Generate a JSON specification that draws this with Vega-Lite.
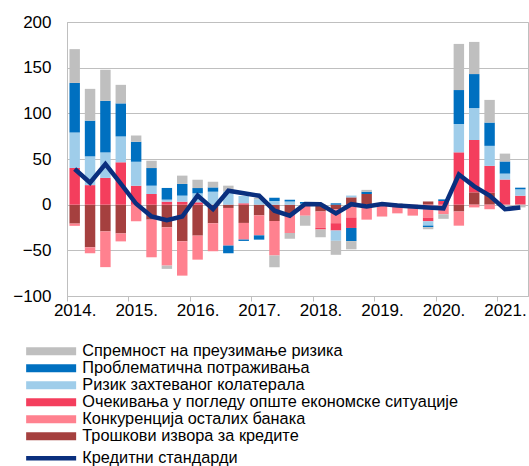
{
  "$schema": "https://vega.github.io/schema/vega-lite/v6.json",
  "width": 461,
  "height": 274,
  "autosize": {"type": "none"},
  "padding": {"left": 67, "top": 22, "right": 1, "bottom": 170},
  "background": "white",
  "config": {
    "font": "Liberation Sans",
    "view": {"stroke": "#BFBFBF", "strokeWidth": 1},
    "axis": {"labelFont": "Liberation Sans", "labelFontSize": 17, "labelColor": "#000000"},
    "legend": {"labelFont": "Liberation Sans", "labelColor": "#000000", "labelLimit": 600}
  },
  "datasets": {
    "ord": [
      {"s": "Трошкови извора за кредите", "k": 1},
      {"s": "Конкуренција осталих банака", "k": 2},
      {"s": "Очекивања у погледу опште економске ситуације", "k": 3},
      {"s": "Ризик захтеваног колатерала", "k": 4},
      {"s": "Проблематична потраживања", "k": 5},
      {"s": "Спремност на преузимање ризика", "k": 6}
    ],
    "bars": [
      {"q": "2014-1", "s": "Трошкови извора за кредите", "v": -20.7},
      {"q": "2014-1", "s": "Конкуренција осталих банака", "v": -2.5},
      {"q": "2014-1", "s": "Очекивања у погледу опште економске ситуације", "v": 40.2},
      {"q": "2014-1", "s": "Ризик захтеваног колатерала", "v": 38.8},
      {"q": "2014-1", "s": "Проблематична потраживања", "v": 54.3},
      {"q": "2014-1", "s": "Спремност на преузимање ризика", "v": 37},
      {"q": "2014-2", "s": "Трошкови извора за кредите", "v": -46.7},
      {"q": "2014-2", "s": "Конкуренција осталих банака", "v": -6.5},
      {"q": "2014-2", "s": "Очекивања у погледу опште економске ситуације", "v": 21.4},
      {"q": "2014-2", "s": "Ризик захтеваног колатерала", "v": 31.5},
      {"q": "2014-2", "s": "Проблематична потраживања", "v": 39.1},
      {"q": "2014-2", "s": "Спремност на преузимање ризика", "v": 34.8},
      {"q": "2014-3", "s": "Трошкови извора за кредите", "v": -29.3},
      {"q": "2014-3", "s": "Конкуренција осталих банака", "v": -39.1},
      {"q": "2014-3", "s": "Очекивања у погледу опште економске ситуације", "v": 29.3},
      {"q": "2014-3", "s": "Ризик захтеваног колатерала", "v": 27.9},
      {"q": "2014-3", "s": "Проблематична потраживања", "v": 56.5},
      {"q": "2014-3", "s": "Спремност на преузимање ризика", "v": 34},
      {"q": "2014-4", "s": "Трошкови извора за кредите", "v": -31.5},
      {"q": "2014-4", "s": "Конкуренција осталих банака", "v": -8.7},
      {"q": "2014-4", "s": "Очекивања у погледу опште економске ситуације", "v": 46.4},
      {"q": "2014-4", "s": "Ризик захтеваног колатерала", "v": 28.3},
      {"q": "2014-4", "s": "Проблематична потраживања", "v": 36.2},
      {"q": "2014-4", "s": "Спремност на преузимање ризика", "v": 20.3},
      {"q": "2015-1", "s": "Конкуренција осталих банака", "v": -18.2},
      {"q": "2015-1", "s": "Очекивања у погледу опште економске ситуације", "v": 20.8},
      {"q": "2015-1", "s": "Ризик захтеваног колатерала", "v": 26.3},
      {"q": "2015-1", "s": "Проблематична потраживања", "v": 21.9},
      {"q": "2015-1", "s": "Спремност на преузимање ризика", "v": 6.6},
      {"q": "2015-2", "s": "Трошкови извора за кредите", "v": -16.4},
      {"q": "2015-2", "s": "Конкуренција осталих банака", "v": -41.2},
      {"q": "2015-2", "s": "Очекивања у погледу опште економске ситуације", "v": 11.7},
      {"q": "2015-2", "s": "Ризик захтеваног колатерала", "v": 9.1},
      {"q": "2015-2", "s": "Проблематична потраживања", "v": 19.3},
      {"q": "2015-2", "s": "Спремност на преузимање ризика", "v": 8},
      {"q": "2015-3", "s": "Трошкови извора за кредите", "v": -24.8},
      {"q": "2015-3", "s": "Конкуренција осталих банака", "v": -41.9},
      {"q": "2015-3", "s": "Очекивања у погледу опште економске ситуације", "v": 3.3},
      {"q": "2015-3", "s": "Ризик захтеваног колатерала", "v": 2.2},
      {"q": "2015-3", "s": "Проблематична потраживања", "v": 12.8},
      {"q": "2015-3", "s": "Спремност на преузимање ризика", "v": -3.6},
      {"q": "2015-4", "s": "Трошкови извора за кредите", "v": -40.1},
      {"q": "2015-4", "s": "Конкуренција осталих банака", "v": -37.6},
      {"q": "2015-4", "s": "Очекивања у погледу опште економске ситуације", "v": 3.3},
      {"q": "2015-4", "s": "Ризик захтеваног колатерала", "v": 6.6},
      {"q": "2015-4", "s": "Проблематична потраживања", "v": 12.8},
      {"q": "2015-4", "s": "Спремност на преузимање ризика", "v": 9.1},
      {"q": "2016-1", "s": "Трошкови извора за кредите", "v": -33.9},
      {"q": "2016-1", "s": "Конкуренција осталих банака", "v": -26.3},
      {"q": "2016-1", "s": "Очекивања у погледу опште економске ситуације", "v": 2.6},
      {"q": "2016-1", "s": "Ризик захтеваног колатерала", "v": 9.8},
      {"q": "2016-1", "s": "Проблематична потраживања", "v": 5.8},
      {"q": "2016-1", "s": "Спремност на преузимање ризика", "v": 9.1},
      {"q": "2016-2", "s": "Трошкови извора за кредите", "v": -20.4},
      {"q": "2016-2", "s": "Конкуренција осталих банака", "v": -30.6},
      {"q": "2016-2", "s": "Ризик захтеваног колатерала", "v": 14.2},
      {"q": "2016-2", "s": "Проблематична потраживања", "v": 4.7},
      {"q": "2016-2", "s": "Спремност на преузимање ризика", "v": 6.2},
      {"q": "2016-3", "s": "Трошкови извора за кредите", "v": -3.6},
      {"q": "2016-3", "s": "Конкуренција осталих банака", "v": -41.2},
      {"q": "2016-3", "s": "Ризик захтеваног колатерала", "v": 14.6},
      {"q": "2016-3", "s": "Проблематична потраживања", "v": -8.4},
      {"q": "2016-3", "s": "Спремност на преузимање ризика", "v": 6.2},
      {"q": "2016-4", "s": "Трошкови извора за кредите", "v": -20},
      {"q": "2016-4", "s": "Конкуренција осталих банака", "v": -18.2},
      {"q": "2016-4", "s": "Очекивања у погледу опште економске ситуације", "v": 1.5},
      {"q": "2016-4", "s": "Ризик захтеваног колатерала", "v": 8},
      {"q": "2016-4", "s": "Проблематична потраживања", "v": -1.5},
      {"q": "2017-1", "s": "Трошкови извора за кредите", "v": -11.7},
      {"q": "2017-1", "s": "Конкуренција осталих банака", "v": -21.9},
      {"q": "2017-1", "s": "Ризик захтеваног колатерала", "v": 6},
      {"q": "2017-1", "s": "Проблематична потраживања", "v": -4.7},
      {"q": "2017-1", "s": "Спремност на преузимање ризика", "v": 1.5},
      {"q": "2017-2", "s": "Трошкови извора за кредите", "v": -18},
      {"q": "2017-2", "s": "Конкуренција осталих банака", "v": -37.6},
      {"q": "2017-2", "s": "Ризик захтеваног колатерала", "v": 4},
      {"q": "2017-2", "s": "Проблематична потраживања", "v": 3.6},
      {"q": "2017-2", "s": "Спремност на преузимање ризика", "v": -12.8},
      {"q": "2017-3", "s": "Трошкови извора за кредите", "v": -10.9},
      {"q": "2017-3", "s": "Конкуренција осталих банака", "v": -20.1},
      {"q": "2017-3", "s": "Ризик захтеваног колатерала", "v": 3.6},
      {"q": "2017-3", "s": "Проблематична потраживања", "v": 1.8},
      {"q": "2017-3", "s": "Спремност на преузимање ризика", "v": -6.2},
      {"q": "2017-4", "s": "Конкуренција осталих банака", "v": -12},
      {"q": "2017-4", "s": "Ризик захтеваног колатерала", "v": 1},
      {"q": "2017-4", "s": "Проблематична потраживања", "v": 1.8},
      {"q": "2017-4", "s": "Спремност на преузимање ризика", "v": -11},
      {"q": "2018-1", "s": "Трошкови извора за кредите", "v": -7.5},
      {"q": "2018-1", "s": "Конкуренција осталих банака", "v": -17.7},
      {"q": "2018-1", "s": "Очекивања у погледу опште економске ситуације", "v": -2},
      {"q": "2018-1", "s": "Спремност на преузимање ризика", "v": -8.6},
      {"q": "2018-2", "s": "Трошкови извора за кредите", "v": -5},
      {"q": "2018-2", "s": "Конкуренција осталих банака", "v": -15.3},
      {"q": "2018-2", "s": "Очекивања у погледу опште економске ситуације", "v": -8},
      {"q": "2018-2", "s": "Ризик захтеваног колатерала", "v": -11.3},
      {"q": "2018-2", "s": "Проблематична потраживања", "v": 1.5},
      {"q": "2018-2", "s": "Спремност на преузимање ризика", "v": -15.3},
      {"q": "2018-3", "s": "Трошкови извора за кредите", "v": 8},
      {"q": "2018-3", "s": "Конкуренција осталих банака", "v": -14},
      {"q": "2018-3", "s": "Очекивања у погледу опште економске ситуације", "v": -11.5},
      {"q": "2018-3", "s": "Ризик захтеваног колатерала", "v": 2},
      {"q": "2018-3", "s": "Проблематична потраживања", "v": -14.4},
      {"q": "2018-3", "s": "Спремност на преузимање ризика", "v": -9},
      {"q": "2018-4", "s": "Трошкови извора за кредите", "v": 11.7},
      {"q": "2018-4", "s": "Конкуренција осталих банака", "v": -16.4},
      {"q": "2018-4", "s": "Проблематична потраживања", "v": 2.5},
      {"q": "2018-4", "s": "Спремност на преузимање ризика", "v": 2},
      {"q": "2019-1", "s": "Конкуренција осталих банака", "v": -13},
      {"q": "2019-1", "s": "Спремност на преузимање ризика", "v": 1.5},
      {"q": "2019-2", "s": "Конкуренција осталих банака", "v": -9.5},
      {"q": "2019-2", "s": "Спремност на преузимање ризика", "v": 1.5},
      {"q": "2019-3", "s": "Конкуренција осталих банака", "v": -12},
      {"q": "2019-4", "s": "Трошкови извора за кредите", "v": 3.5},
      {"q": "2019-4", "s": "Конкуренција осталих банака", "v": -14.2},
      {"q": "2019-4", "s": "Очекивања у погледу опште економске ситуације", "v": -4},
      {"q": "2019-4", "s": "Ризик захтеваног колатерала", "v": -4.7},
      {"q": "2019-4", "s": "Проблематична потраживања", "v": -1.8},
      {"q": "2019-4", "s": "Спремност на преузимање ризика", "v": -2.2},
      {"q": "2020-1", "s": "Конкуренција осталих банака", "v": -10.5},
      {"q": "2020-1", "s": "Очекивања у погледу опште економске ситуације", "v": 4},
      {"q": "2020-1", "s": "Проблематична потраживања", "v": 1.8},
      {"q": "2020-1", "s": "Спремност на преузимање ризика", "v": -5},
      {"q": "2020-2", "s": "Трошкови извора за кредите", "v": -7.5},
      {"q": "2020-2", "s": "Конкуренција осталих банака", "v": -15.5},
      {"q": "2020-2", "s": "Очекивања у погледу опште економске ситуације", "v": 57.3},
      {"q": "2020-2", "s": "Ризик захтеваног колатерала", "v": 31},
      {"q": "2020-2", "s": "Проблематична потраживања", "v": 37.2},
      {"q": "2020-2", "s": "Спремност на преузимање ризика", "v": 50.5},
      {"q": "2020-3", "s": "Трошкови извора за кредите", "v": 13.5},
      {"q": "2020-3", "s": "Конкуренција осталих банака", "v": -3},
      {"q": "2020-3", "s": "Очекивања у погледу опште економске ситуације", "v": 57.3},
      {"q": "2020-3", "s": "Ризик захтеваног колатерала", "v": 35},
      {"q": "2020-3", "s": "Проблематична потраживања", "v": 37.2},
      {"q": "2020-3", "s": "Спремност на преузимање ризика", "v": 35.2},
      {"q": "2020-4", "s": "Трошкови извора за кредите", "v": 13},
      {"q": "2020-4", "s": "Конкуренција осталих банака", "v": -5},
      {"q": "2020-4", "s": "Очекивања у погледу опште економске ситуације", "v": 29.5},
      {"q": "2020-4", "s": "Ризик захтеваног колатерала", "v": 21.9},
      {"q": "2020-4", "s": "Проблематична потраживања", "v": 25.5},
      {"q": "2020-4", "s": "Спремност на преузимање ризика", "v": 24.8},
      {"q": "2021-1", "s": "Очекивања у погледу опште економске ситуације", "v": 27.5},
      {"q": "2021-1", "s": "Ризик захтеваног колатерала", "v": 6.5},
      {"q": "2021-1", "s": "Проблематична потраживања", "v": 13.3},
      {"q": "2021-1", "s": "Спремност на преузимање ризика", "v": 8.6},
      {"q": "2021-2", "s": "Очекивања у погледу опште економске ситуације", "v": 9.8},
      {"q": "2021-2", "s": "Ризик захтеваног колатерала", "v": 7},
      {"q": "2021-2", "s": "Проблематична потраживања", "v": 1.8},
      {"q": "2021-2", "s": "Спремност на преузимање ризика", "v": -3}
    ],
    "cs": [
      {"q": "2014-1", "v": 39},
      {"q": "2014-2", "v": 24},
      {"q": "2014-3", "v": 44.5},
      {"q": "2014-4", "v": 23},
      {"q": "2015-1", "v": 1},
      {"q": "2015-2", "v": -13},
      {"q": "2015-3", "v": -17},
      {"q": "2015-4", "v": -13},
      {"q": "2016-1", "v": 10},
      {"q": "2016-2", "v": -4.7},
      {"q": "2016-3", "v": 15.3},
      {"q": "2016-4", "v": 12.4},
      {"q": "2017-1", "v": 9.8},
      {"q": "2017-2", "v": -6.6},
      {"q": "2017-3", "v": -12},
      {"q": "2017-4", "v": 0.7},
      {"q": "2018-1", "v": 0.5},
      {"q": "2018-2", "v": -9.5},
      {"q": "2018-3", "v": 0.5},
      {"q": "2018-4", "v": -2},
      {"q": "2019-1", "v": 0.7},
      {"q": "2019-2", "v": -1},
      {"q": "2019-3", "v": -2},
      {"q": "2019-4", "v": -3},
      {"q": "2020-1", "v": -4},
      {"q": "2020-2", "v": 33},
      {"q": "2020-3", "v": 20},
      {"q": "2020-4", "v": 10},
      {"q": "2021-1", "v": -5},
      {"q": "2021-2", "v": -3}
    ]
  },
  "layer": [
    {
      "data": {"name": "bars"},
      "transform": [
        {"lookup": "s", "from": {"data": {"name": "ord"}, "key": "s", "fields": ["k"]}}
      ],
      "mark": {"type": "bar"},
      "encoding": {
        "x": {
          "field": "q",
          "type": "nominal",
          "scale": {"paddingInner": 0.32, "paddingOuter": 0.16},
          "axis": {
            "title": null,
            "values": ["2014-1", "2015-1", "2016-1", "2017-1", "2018-1", "2019-1", "2020-1", "2021-1"],
            "labelExpr": "substring(datum.value, 0, 4) + '.'",
            "labelAngle": 0,
            "tickOffset": -7.68,
            "labelOffset": 7.68,
            "tickSize": 5,
            "tickColor": "#BFBFBF",
            "domainColor": "#BFBFBF",
            "labelPadding": 1,
            "grid": false
          }
        },
        "y": {
          "field": "v",
          "type": "quantitative",
          "stack": "zero",
          "scale": {"domain": [-100, 200], "nice": false},
          "axis": {
            "title": null,
            "values": [-100, -50, 0, 50, 100, 150, 200],
            "ticks": false,
            "labelPadding": 16,
            "grid": true,
            "gridColor": "#BFBFBF",
            "gridWidth": 1.2,
            "domainColor": "#BFBFBF"
          }
        },
        "fill": {
          "field": "s",
          "type": "nominal",
          "scale": {
            "domain": [
              "Спремност на преузимање ризика",
              "Проблематична потраживања",
              "Ризик захтеваног колатерала",
              "Очекивања у погледу опште економске ситуације",
              "Конкуренција осталих банака",
              "Трошкови извора за кредите"
            ],
            "range": ["#BFBFBF", "#0070C0", "#9FCDEA", "#F43E5D", "#FF818F", "#A5403F"]
          },
          "legend": {
            "orient": "none",
            "legendX": -24,
            "legendY": 321,
            "title": null,
            "padding": 0,
            "symbolType": "M-6.25,-1L6.25,-1L6.25,1L-6.25,1Z",
            "symbolSize": 64,
            "symbolStrokeWidth": 0,
            "labelFontSize": 16.3,
            "labelOffset": 23,
            "rowPadding": 0
          }
        },
        "order": {"field": "k", "type": "quantitative", "sort": "ascending"}
      }
    },
    {
      "data": {"name": "cs"},
      "mark": {"type": "line", "strokeWidth": 4.5, "strokeJoin": "miter"},
      "encoding": {
        "x": {"field": "q", "type": "nominal"},
        "y": {"field": "v", "type": "quantitative"},
        "stroke": {
          "datum": "Кредитни стандарди",
          "scale": {"range": ["#0A2F7E"]},
          "legend": {
            "orient": "none",
            "legendX": -24,
            "legendY": 428,
            "title": null,
            "padding": 0,
            "symbolType": "M-6.25,0L6.25,0",
            "symbolSize": 64,
            "symbolStrokeWidth": 4.5,
            "labelFontSize": 16.3,
            "labelOffset": 23
          }
        }
      }
    }
  ]
}
